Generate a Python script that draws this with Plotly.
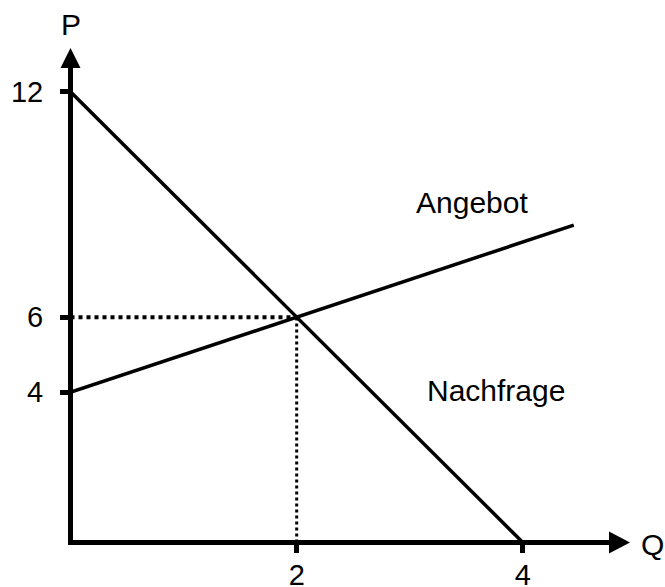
import plotly.graph_objects as go

# market model: demand P = 12 - 3Q, supply P = 4 + Q
demand_q = [0, 4]
demand_p = [12, 0]
supply_q = [0, 4.45]
supply_p = [4, 8.45]
eq_q = 2
eq_p = 6

x_ticks = [2, 4]
y_ticks = [4, 6, 12]

FONT = "Arial, Liberation Sans, sans-serif"

# axis lines are drawn half their width outside the plot area,
# so the ranges start slightly above 0 to put 0 on the line centre
x_range = [0.0221, 4.788]
y_range = [0.0665, 12.686]

fig = go.Figure()

fig.add_trace(go.Scatter(x=demand_q, y=demand_p, mode="lines",
                         line=dict(color="black", width=3.5)))
fig.add_trace(go.Scatter(x=supply_q, y=supply_p, mode="lines",
                         line=dict(color="black", width=3.5)))
# dotted guides to the equilibrium
fig.add_trace(go.Scatter(x=[0, eq_q], y=[eq_p, eq_p], mode="lines",
                         line=dict(color="black", width=4, dash="dot")))
fig.add_trace(go.Scatter(x=[eq_q, eq_q], y=[0, eq_p], mode="lines",
                         line=dict(color="black", width=3, dash="dot")))

# arrow heads at the ends of both axes (pixel sized, paper anchored)
x0_frac = (0 - x_range[0]) / (x_range[1] - x_range[0])
y0_frac = (0 - y_range[0]) / (y_range[1] - y_range[0])
fig.add_shape(type="path", xref="paper", yref="paper",
              xsizemode="pixel", ysizemode="pixel", xanchor=1, yanchor=y0_frac,
              path="M -3 -11 L 18 0 L -3 11 Z", fillcolor="black", line=dict(width=0))
fig.add_shape(type="path", xref="paper", yref="paper",
              xsizemode="pixel", ysizemode="pixel", xanchor=x0_frac, yanchor=1,
              path="M -10 -2 L 10 -2 L 0 18 Z", fillcolor="black", line=dict(width=0))

# axis names sit outside the plot area -> paper coordinates
fig.add_annotation(x=-0.0028, y=1.0885, xref="paper", yref="paper", text="P",
                   showarrow=False, xanchor="center", yanchor="middle",
                   font=dict(family=FONT, size=30, color="black"))
fig.add_annotation(x=1.076, y=-0.0095, xref="paper", yref="paper", text="Q",
                   showarrow=False, xanchor="center", yanchor="middle",
                   font=dict(family=FONT, size=30, color="black"))

curve_labels = [
    ("Angebot", 3.552, 9.05),
    ("Nachfrage", 3.763, 4.05),
]
for text, x, y in curve_labels:
    fig.add_annotation(x=x, y=y, text=text, showarrow=False,
                       xanchor="center", yanchor="middle",
                       font=dict(family=FONT, size=30, color="black"))

axis_common = dict(
    showgrid=False, zeroline=False, showline=True, linecolor="black", linewidth=5,
    ticks="outside", ticklen=8, tickwidth=5, tickcolor="black", automargin=False,
    tickfont=dict(family=FONT, size=29, color="black"), fixedrange=True,
)
fig.update_xaxes(range=x_range, tickvals=x_ticks, ticklabelstandoff=-3, **axis_common)
fig.update_yaxes(range=y_range, tickvals=y_ticks, ticklabelstandoff=11, **axis_common)

fig.update_layout(
    width=665, height=587, showlegend=False,
    margin=dict(l=72.5, r=53, t=66, b=46.5, pad=0),
    plot_bgcolor="white", paper_bgcolor="white",
)

# drop the default 8px body margin so the figure fills the window exactly
fig.write_html("out.html", config={"displayModeBar": False},
               post_script="document.body.style.margin='0';")
